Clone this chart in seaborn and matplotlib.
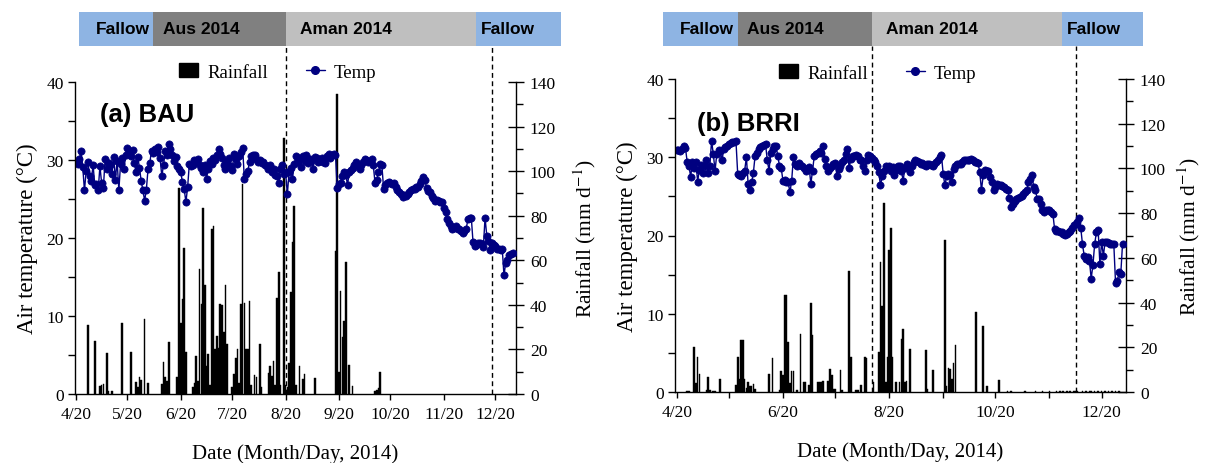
import numpy as np
import pandas as pd
import matplotlib
matplotlib.use("Agg")
import matplotlib.pyplot as plt
import seaborn as sns
from matplotlib.lines import Line2D
from matplotlib.patches import Patch
from matplotlib.ticker import MultipleLocator, FixedLocator

# ---------------- data ----------------
START = "2014-04-20"   # first day of the daily series

# daily mean air temperature (deg C), one value per day from 4/20
temp_bau = [
    29.7, 29.5, 30.1, 31.2, 29.1, 26.1, 28.6, 29.8, 27.9, 27.3,
    29.4, 26.8, 26.9, 26.2, 29.2, 27.0, 26.4, 30.1, 28.8, 29.6,
    29.3, 28.2, 30.4, 27.5, 29.9, 26.1, 29.5, 30.2, 28.9, 30.6,
    31.6, 31.2, 30.5, 31.3, 29.6, 28.4, 30.4, 29.0, 27.3, 26.1,
    24.8, 26.2, 28.9, 29.6, 31.2, 30.9, 31.4, 31.0, 31.7, 30.2,
    27.9, 29.4, 31.1, 30.6, 32.0, 31.4, 30.6, 29.9, 30.4, 29.2,
    28.9, 28.4, 27.2, 26.3, 24.6, 26.5, 29.5, 29.2, 29.3, 30.0,
    29.8, 30.1, 29.4, 29.0, 28.5, 29.3, 27.6, 28.9, 29.9, 29.5,
    30.2, 30.0, 30.6, 31.4, 30.8, 30.3, 29.4, 28.9, 29.7, 30.2,
    29.2, 28.7, 30.8, 30.1, 29.5, 30.5, 31.0, 31.6, 27.6, 28.2,
    28.6, 29.7, 30.5, 30.7, 30.6, 30.1, 29.8, 30.0, 29.6, 29.8,
    29.4, 29.2, 28.9, 29.3, 28.4, 28.8, 28.1, 28.0, 27.1, 28.9,
    29.3, 28.2, 28.4, 25.6, 28.4, 29.0, 27.6, 29.5, 30.5, 29.8,
    30.3, 29.1, 30.5, 29.9, 30.7, 29.6, 30.1, 29.9, 28.9, 30.4,
    30.2, 29.7, 29.9, 30.2, 29.7, 29.6, 30.5, 30.8, 30.2, 30.6,
    30.8, 30.7, 26.4, 26.9, 27.1, 27.9, 28.4, 28.1, 26.8, 28.4,
    28.7, 29.0, 29.3, 29.7, 29.3, 28.9, 29.4, 29.8, 30.1, 30.0,
    29.7, 29.9, 30.1, 29.3, 27.1, 27.5, 28.4, 29.5, 29.3, 26.3,
    26.8, 27.0, 27.2, 27.0, 26.9, 27.0, 26.5, 26.2, 25.9, 25.6,
    25.2, 25.5, 25.4, 25.6, 25.9, 26.1, 26.3, 26.3, 26.6, 26.5,
    26.9, 27.3, 27.8, 27.5, 26.4, 26.0, 25.9, 25.4, 25.1, 24.8,
    24.9, 24.8, 24.6, 24.6, 23.9, 23.3, 22.4, 21.9, 21.5, 21.1,
    21.3, 21.5, 21.2, 21.2, 20.9, 20.7, 20.9, 21.1, 22.4, 22.6,
    22.6, 19.5, 19.0, 19.1, 19.4, 19.3, 19.2, 18.8, 22.6, 20.3,
    19.6, 18.4, 19.3, 19.1, 19.0, 18.6, 18.6, 18.4, 18.6, 15.2,
    16.8, 17.2, 17.8, 18.0, 18.1,
]

temp_brri = [
    30.9, 30.9, 30.8, 31.1, 31.5, 31.2, 29.4, 28.9, 27.5, 29.4,
    28.6, 29.4, 26.9, 28.4, 29.0, 28.0, 28.9, 29.7, 28.0, 28.9,
    32.1, 30.4, 28.3, 30.4, 30.9, 30.8, 29.6, 31.1, 31.3, 31.5,
    31.7, 31.8, 31.9, 32.0, 32.1, 27.9, 27.7, 27.6, 28.0, 28.3,
    30.0, 26.6, 25.8, 26.8, 28.0, 30.2, 30.6, 31.1, 31.3, 31.5,
    31.6, 31.7, 29.6, 28.3, 30.6, 31.1, 31.4, 31.5, 30.2, 28.9,
    28.6, 27.0, 27.1, 26.9, 26.8, 25.5, 27.0, 30.0, 29.1, 28.9,
    29.3, 29.0, 28.9, 28.6, 28.3, 28.5, 28.8, 26.6, 28.3, 30.2,
    30.4, 30.6, 30.8, 30.6, 31.5, 29.8, 28.9, 28.3, 28.6, 28.9,
    29.2, 29.3, 27.6, 28.5, 28.9, 29.4, 29.6, 30.4, 31.1, 28.6,
    29.8, 30.2, 30.2, 30.3, 30.2, 29.7, 29.6, 28.9, 28.3, 29.6,
    30.3, 30.2, 29.9, 29.6, 29.4, 28.9, 28.1, 26.4, 27.6, 28.3,
    28.9, 28.6, 28.9, 28.2, 28.8, 27.7, 28.4, 28.9, 28.9, 28.3,
    27.0, 28.6, 29.2, 28.9, 28.1, 28.9, 29.4, 29.6, 29.5, 29.4,
    29.2, 29.3, 29.0, 28.9, 29.1, 29.2, 29.0, 28.9, 29.1, 29.4,
    29.6, 30.0, 30.3, 27.9, 26.4, 27.6, 27.9, 27.7, 26.8, 28.5,
    28.9, 29.2, 29.2, 29.2, 29.4, 29.6, 29.6, 29.6, 29.7, 29.8,
    29.6, 29.4, 29.4, 29.3, 28.1, 25.8, 27.7, 28.4, 28.3, 28.3,
    27.5, 26.8, 25.8, 26.2, 26.6, 26.5, 26.4, 26.3, 26.2, 26.0,
    25.8, 24.8, 23.6, 24.0, 24.4, 24.7, 24.8, 24.9, 25.1, 25.3,
    25.5, 25.8, 26.8, 27.2, 27.7, 26.2, 25.8, 24.7, 24.7, 24.0,
    23.2, 23.0, 23.2, 23.2, 23.2, 23.0, 22.8, 20.8, 20.6, 20.6,
    20.4, 20.4, 20.2, 20.1, 20.2, 20.4, 20.6, 20.9, 21.3, 21.5,
    21.7, 22.3, 21.0, 18.9, 17.4, 17.0, 17.2, 16.8, 14.5, 16.2,
    18.9, 20.4, 20.7, 16.4, 19.2, 17.4, 19.2, 19.2, 19.0, 18.9,
    18.9, 18.9, 13.9, 14.2, 15.3, 15.1, 18.9,
]

# daily rainfall (mm/d): day number counted from 4/20, and amount
rain_bau_day = [7, 11, 14, 15, 16, 18, 19, 21, 27, 32,
                35, 36, 37, 38, 40, 42, 50, 51, 52, 53,
                54, 59, 60, 61, 62, 63, 64, 68, 69, 70,
                71, 72, 73, 74, 75, 76, 77, 78, 79, 80,
                81, 82, 83, 84, 85, 86, 87, 88, 91, 92,
                93, 94, 95, 96, 97, 98, 99, 100, 101, 102,
                104, 105, 107, 108, 112, 113, 114, 115, 116, 117,
                118, 119, 121, 122, 123, 124, 125, 126, 127, 128,
                130, 132, 133, 139, 151, 152, 153, 154, 155, 156,
                157, 159, 161, 174, 175, 176, 177]
rain_bau_mm = [31, 24, 3.5, 4, 4.5, 18.4, 1.5, 1.5, 32, 19,
               5.5, 3, 7.5, 6.5, 33.5, 5, 4.5, 14.3, 7.5, 6,
               23.2, 7.5, 92.3, 32, 42.6, 65.5, 18.7, 3, 5, 17.2,
               6, 56, 40.3, 83.4, 49.1, 12.7, 17.9, 4, 74, 75.2,
               20, 26.2, 20.5, 40.3, 40, 28, 49.1, 22.4, 3, 9,
               16, 20.2, 5, 40.3, 94.2, 41, 20, 20, 41.8, 4,
               8.5, 7.5, 22.4, 3, 9.5, 12.5, 8, 15, 4, 43.3,
               54.8, 4, 114.7, 4, 3, 14, 45.8, 68, 84.5, 4,
               12.7, 6.7, 9, 7, 64, 134.6, 10, 46.4, 25.4, 32.9,
               59.4, 12.8, 3.4, 1.5, 2, 2.6, 10]

rain_brri_day = [6, 7, 10, 11, 12, 13, 17, 18, 19, 21,
                 22, 25, 34, 35, 36, 37, 38, 39, 40, 41,
                 42, 43, 44, 45, 53, 55, 59, 60, 61, 62,
                 63, 64, 65, 66, 67, 69, 71, 73, 74, 76,
                 77, 78, 81, 82, 83, 84, 87, 88, 89, 90,
                 91, 94, 95, 99, 100, 103, 104, 106, 108, 109,
                 113, 116, 117, 118, 119, 120, 121, 122, 123, 124,
                 126, 128, 129, 130, 131, 132, 134, 143, 144, 147,
                 154, 155, 156, 157, 158, 159, 160, 172, 176, 178,
                 185, 190, 192, 200, 206, 210, 214, 218, 220, 222,
                 224, 226, 228, 229, 230, 233, 235, 237, 238, 240,
                 242, 244, 246, 248, 250, 252, 254]
rain_brri_mm = [0.5, 0.5, 20.1, 4, 15.7, 8.2, 1, 6.7, 0.8, 0.5,
                0.5, 5.9, 3, 15.5, 5.6, 23.1, 23.1, 5.6, 2, 4.4,
                2.5, 2.5, 3.5, 1.5, 8.2, 15.2, 1, 9.3, 7.5, 43.6,
                43.6, 22.4, 4, 9.6, 9.2, 1, 25.8, 4.4, 4.4, 3,
                39.9, 25.3, 4.4, 4.4, 4.5, 4.9, 4.9, 10.4, 7.5, 1.5,
                1.2, 9.7, 1, 54.3, 15.7, 1, 1, 3, 15.7, 15.2,
                4.4, 17.9, 58, 38.6, 84.6, 4.4, 15.7, 63.3, 73.3, 15.7,
                4.4, 4.4, 23.8, 28.3, 4.6, 5, 19.3, 18.6, 1.5, 9.7,
                68.2, 2.5, 10.7, 10.4, 6, 13, 20.8, 36, 29.7, 2.6,
                5.2, 0.4, 0.4, 0.4, 0.4, 0.4, 0.4, 0.4, 0.4, 0.4,
                0.4, 0.4, 0.4, 0.4, 0.4, 0.4, 0.4, 0.4, 0.4, 0.4,
                0.4, 0.4, 0.4, 0.4, 0.4, 0.4, 0.4]

# x tick dates and labels
tick_dates = ["2014-04-20", "2014-05-20", "2014-06-20", "2014-07-20", "2014-08-20",
              "2014-09-20", "2014-10-20", "2014-11-20", "2014-12-20"]
tick_labels = ["4/20", "5/20", "6/20", "7/20", "8/20", "9/20", "10/20", "11/20", "12/20"]

# crop stages (bar on top)
stage_names = ["Fallow", "Aus 2014", "Aman 2014", "Fallow"]
stage_bounds_bau = ["2014-04-22", "2014-06-04", "2014-08-20", "2014-12-09", "2015-01-27"]
stage_bounds_brri = ["2014-04-12", "2014-05-25", "2014-08-10", "2014-11-27", "2015-01-13"]
dash_bau = ["2014-08-20", "2014-12-18"]
dash_brri = ["2014-08-10", "2014-12-05"]

# ---------------- style ----------------
STAGE_COLORS = ["#8EB4E3", "#808080", "#BFBFBF", "#8EB4E3"]
STAGE_PADS = [12, 7, 10, 3.5]          # points from segment start
NAVY = "#000080"
W, H = 1207, 464

sns.set_style("ticks")
plt.rcParams["font.family"] = ["Liberation Serif", "DejaVu Serif"]
plt.rcParams["mathtext.fontset"] = "stix"
plt.rcParams["axes.linewidth"] = 1.0
for k in ["text.color", "axes.labelcolor", "xtick.color", "ytick.color",
          "axes.edgecolor"]:
    plt.rcParams[k] = "black"

t0 = pd.Timestamp(START)


def dnum(s):
    return (pd.Timestamp(s) - t0).days


fig = plt.figure(figsize=(W / 100, H / 100), dpi=100)


def panel(px_left, px_right, px_bottom, px_top, xlim, temp, rday, rmm,
          label_every, bounds, dashes, tag, tag_xy, leg_xy, rpad):
    rect = [px_left / W, (H - px_bottom) / H, (px_right - px_left) / W,
            (px_bottom - px_top) / H]
    ax = fig.add_axes(rect)
    ax2 = ax.twinx()
    ax.set_zorder(ax2.get_zorder() + 1)
    ax.patch.set_visible(False)

    ax2.bar(rday, rmm, width=0.95, color="black", edgecolor="black",
            linewidth=0.3, align="center")
    days = np.arange(len(temp))
    sns.lineplot(x=days, y=temp, ax=ax, color=NAVY, marker="o", markersize=5.2,
                 markeredgecolor=NAVY, markeredgewidth=0.5, linewidth=1.0,
                 legend=False)

    ax.set_xlim(*xlim)
    ax.set_ylim(0, 40)
    ax2.set_ylim(0, 140)

    ticks = [dnum(t) for t in tick_dates]
    major = ticks[::label_every]
    minor = [t for t in ticks if t not in major]
    ax.xaxis.set_major_locator(FixedLocator(major))
    ax.set_xticklabels(tick_labels[::label_every])
    ax.xaxis.set_minor_locator(FixedLocator(minor))
    ax.yaxis.set_major_locator(MultipleLocator(10))
    ax.yaxis.set_minor_locator(MultipleLocator(5))
    ax2.yaxis.set_major_locator(MultipleLocator(20))
    ax2.yaxis.set_minor_locator(MultipleLocator(10))

    ax.tick_params(axis="x", which="both", direction="out", length=4, width=1,
                   labelsize=12.5, pad=5, colors="black")
    ax.tick_params(axis="y", which="both", direction="out", length=5, width=1,
                   labelsize=12.5, pad=3, colors="black")
    ax2.tick_params(axis="y", which="major", direction="inout", length=12, width=1,
                    labelsize=12.5, pad=4, colors="black")
    ax2.tick_params(axis="y", which="minor", direction="out", length=5, width=1,
                    colors="black")

    for s in ["top", "right"]:
        ax.spines[s].set_visible(False)
    for s in ["top", "left", "bottom"]:
        ax2.spines[s].set_visible(False)
    for a in (ax, ax2):
        for s in a.spines.values():
            s.set_color("black")
            s.set_linewidth(1.0)

    ax.set_xlabel("Date (Month/Day, 2014)", fontsize=15, labelpad=15,
                  color="black")
    ax.set_ylabel("Air temperature (\u00b0C)", fontsize=16.5, labelpad=6,
                  color="black")
    ax2.set_ylabel("Rainfall (mm d$^{-1}$)", fontsize=15.5, labelpad=rpad,
                   color="black")

    ax.text(tag_xy[0], tag_xy[1], tag, transform=ax.transAxes, ha="left",
            va="center", fontsize=18.5, fontweight="bold", color="black",
            family=["Liberation Sans", "DejaVu Sans"])

    # stage bar
    fpd = rect[2] / (xlim[1] - xlim[0])
    b = [dnum(s) for s in bounds]
    sb_bottom = (H - 47) / H
    sb_height = 34 / H
    sax = fig.add_axes([rect[0] + (b[0] - xlim[0]) * fpd, sb_bottom,
                        (b[-1] - b[0]) * fpd, sb_height])
    sax.set_xlim(b[0], b[-1])
    sax.set_ylim(0, 1)
    sax.axis("off")
    for i, name in enumerate(stage_names):
        sax.barh(0.5, b[i + 1] - b[i], left=b[i], height=1.0,
                 color=STAGE_COLORS[i], linewidth=0)
        sax.annotate(name, xy=(b[i], 0.5), xytext=(STAGE_PADS[i], 0),
                     textcoords="offset points", ha="left", va="center",
                     fontsize=12.5, fontweight="bold", color="black",
                     family=["Liberation Sans", "DejaVu Sans"])

    # dashed stage boundaries
    ytop = (sb_bottom - rect[1]) / rect[3]
    for d in dashes:
        ax2.axvline(dnum(d), ymin=0, ymax=ytop, clip_on=False, color="black",
                    linestyle=(0, (3.5, 2.5)), linewidth=1.0, zorder=0)

    handles = [Patch(facecolor="black", edgecolor="black", label="Rainfall"),
               Line2D([0], [0], color=NAVY, marker="o", markersize=5.5,
                      linewidth=1.0, label="Temp")]
    leg = fig.legend(handles=handles, loc="center",
                     bbox_to_anchor=(leg_xy[0] / W, (H - leg_xy[1]) / H), ncol=2,
                     frameon=False, fontsize=13.5, handlelength=1.0,
                     handleheight=0.75, handletextpad=0.5, columnspacing=2.0)
    for t in leg.get_texts():
        t.set_color("black")
    return ax, ax2


panel(75, 516, 395, 83, (-0.5, 256), temp_bau, rain_bau_day, rain_bau_mm, 1,
      stage_bounds_bau, dash_bau, "(a) BAU", (0.057, 0.897), (278, 73), 11)
panel(675, 1126, 393, 80, (-1, 258), temp_brri, rain_brri_day, rain_brri_mm, 2,
      stage_bounds_brri, dash_brri, "(b) BRRI", (0.049, 0.859), (878, 74), 7)

fig.savefig("out.png", dpi=100)
